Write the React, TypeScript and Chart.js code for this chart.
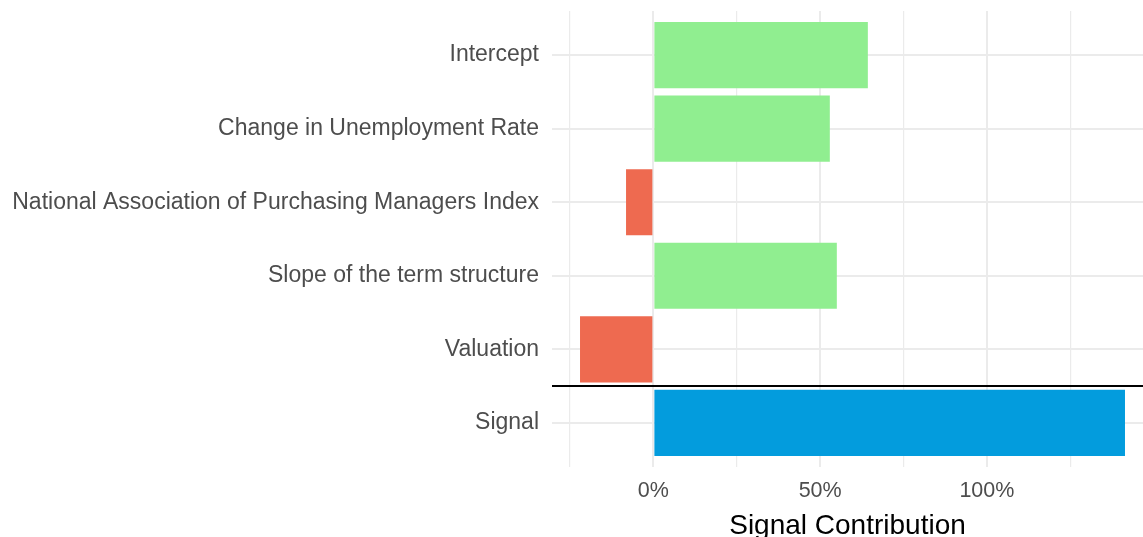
import React, { useEffect, useRef } from "react";
import { Chart, registerables } from "chart.js";

Chart.register(...registerables);

const categories = [
  "Intercept",
  "Change in Unemployment Rate",
  "National Association of Purchasing Managers Index",
  "Slope of the term structure",
  "Valuation",
  "Signal",
];
const contributions = [64.3, 52.9, -8.2, 55.0, -22.0, 141.4];
const xTickValues = [-25, 0, 25, 50, 75, 100, 125];
const xLabeledTicks = [0, 50, 100];

const separatorPlugin = {
  id: "separator",
  afterDatasetsDraw(chart: any) {
    const { ctx, chartArea, scales } = chart;
    const y = scales.y.getPixelForValue(categories.length - 1.5);
    ctx.save();
    ctx.strokeStyle = "#000000";
    ctx.lineWidth = 2;
    ctx.beginPath();
    ctx.moveTo(chartArea.left, y);
    ctx.lineTo(chartArea.right, y);
    ctx.stroke();
    ctx.restore();
  },
};

export default function App() {
  const ref = useRef<HTMLCanvasElement | null>(null);
  useEffect(() => {
    if (!ref.current) return;
    Chart.defaults.font.family = "'Liberation Sans', Arial, sans-serif";
    const data = contributions.map((v, i) => ({ x: v, y: i }));
    const chart = new Chart(ref.current, {
      type: "bar",
      data: {
        datasets: [
          {
            data: data as any,
            backgroundColor: (c: any) => {
              const i = c.dataIndex;
              if (categories[i] === "Signal") return "#039cdd";
              return contributions[i] >= 0 ? "#90ee90" : "#ee6a50";
            },
            barPercentage: 0.9,
            categoryPercentage: 1,
            borderWidth: 0,
          },
        ],
      },
      plugins: [separatorPlugin],
      options: {
        indexAxis: "y",
        animation: false,
        responsive: false,
        maintainAspectRatio: false,
        layout: { padding: { top: 11, left: 0, right: 0, bottom: 0 } },
        plugins: {
          legend: { display: false },
          tooltip: { enabled: false },
        },
        scales: {
          x: {
            type: "linear",
            min: -30.4,
            max: 146.8,
            afterBuildTicks: (s: any) => {
              s.ticks = xTickValues.map((v) => ({ value: v }));
            },
            afterFit: (s: any) => {
              s.height = 70;
              s.paddingLeft = 0;
              s.paddingRight = 0;
            },
            grid: {
              color: "#ebebeb",
              lineWidth: (c: any) =>
                xLabeledTicks.includes(c.tick?.value) ? 2 : 1.2,
              drawTicks: false,
            },
            border: { display: false },
            ticks: {
              padding: 11,
              color: "#4d4d4d",
              font: { size: 21.5 },
              autoSkip: false,
              maxRotation: 0,
              callback: (v: any) =>
                xLabeledTicks.includes(Number(v)) ? `${v}%` : "",
            },
            title: {
              display: true,
              text: "Signal Contribution",
              color: "#000000",
              font: { size: 28, lineHeight: 0.8 },
              padding: 0,
            },
          },
          y: {
            type: "linear",
            offset: false,
            min: -0.6,
            max: categories.length - 0.4,
            reverse: true,
            afterBuildTicks: (s: any) => {
              s.ticks = categories.map((_, i) => ({ value: i }));
            },
            afterFit: (s: any) => {
              s.width = 552;
              s.paddingTop = 0;
              s.paddingBottom = 0;
            },
            grid: {
              offset: false,
              color: "#ebebeb",
              lineWidth: 2,
              drawTicks: false,
            },
            border: { display: false },
            ticks: {
              padding: 13,
              color: "#4d4d4d",
              font: { size: 23 },
              autoSkip: false,
              callback: (v: any) => categories[Number(v)] ?? "",
            },
          },
        },
      },
    } as any);
    return () => chart.destroy();
  }, []);
  return (
    <div style={{ position: "fixed", left: 0, top: 0, width: 1143, height: 537, background: "#fff" }}>
      <canvas ref={ref} width={1143} height={537} style={{ display: "block" }} />
    </div>
  );
}
